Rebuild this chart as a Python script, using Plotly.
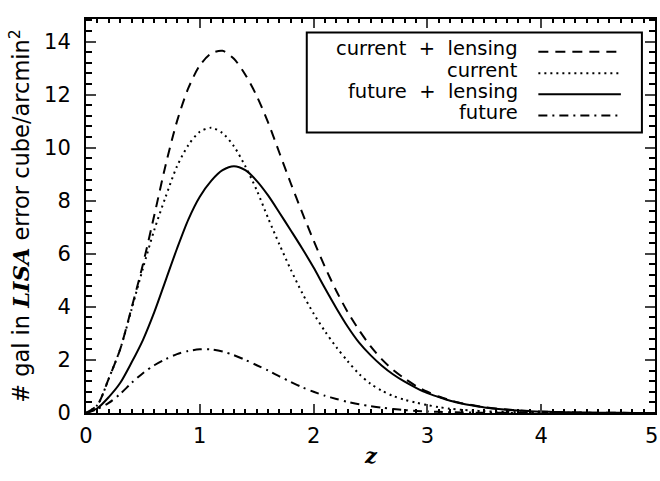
import plotly.graph_objects as go

z = [round(0.1 * i, 1) for i in range(51)]

current_lensing = [0, 0.3, 1.3, 2.4, 3.95, 5.6, 7.45, 9.35, 11.0, 12.25, 13.1, 13.55, 13.65, 13.35, 12.75,
                   11.95, 10.95, 9.8, 8.65, 7.55, 6.5, 5.5, 4.6, 3.8, 3.12, 2.52, 2.02, 1.62, 1.3, 1.02,
                   0.8, 0.62, 0.48, 0.37, 0.29, 0.22, 0.17, 0.13, 0.1, 0.075, 0.055, 0.04, 0.03, 0.022,
                   0.016, 0.012, 0.008, 0.006, 0.004, 0.002, 0.001]
current = [0, 0.3, 1.3, 2.4, 3.9, 5.45, 6.9, 8.15, 9.3, 10.1, 10.6, 10.75, 10.55, 10.05, 9.3,
           8.4, 7.35, 6.35, 5.4, 4.52, 3.75, 3.08, 2.48, 1.95, 1.47, 1.1, 0.84, 0.64, 0.5, 0.39,
           0.3, 0.22, 0.16, 0.12, 0.09, 0.07, 0.05, 0.04, 0.03, 0.02, 0.015, 0.01, 0.008, 0.006,
           0.004, 0.003, 0.002, 0.001, 0.001, 0.0, 0.0]
future_lensing = [0, 0.18, 0.6, 1.13, 1.9, 2.75, 3.8, 5.0, 6.2, 7.3, 8.15, 8.75, 9.15, 9.3, 9.15,
                  8.75, 8.2, 7.55, 6.88, 6.2, 5.48, 4.7, 3.95, 3.25, 2.65, 2.18, 1.78, 1.45, 1.18, 0.95,
                  0.75, 0.6, 0.46, 0.36, 0.28, 0.21, 0.16, 0.12, 0.09, 0.07, 0.05, 0.04, 0.03, 0.022,
                  0.016, 0.01, 0.007, 0.005, 0.003, 0.002, 0.001]
future = [0, 0.15, 0.38, 0.72, 1.13, 1.5, 1.8, 2.03, 2.22, 2.34, 2.4, 2.4, 2.32, 2.18, 2.0,
          1.8, 1.6, 1.38, 1.17, 0.97, 0.8, 0.65, 0.53, 0.42, 0.33, 0.26, 0.2, 0.15, 0.11, 0.08,
          0.06, 0.045, 0.03, 0.02, 0.015, 0.01, 0.007, 0.005, 0.003, 0.002, 0.001, 0, 0, 0,
          0, 0, 0, 0, 0, 0, 0]

labels = ["current&nbsp;&nbsp;+&nbsp;&nbsp;lensing", "current",
          "future&nbsp;&nbsp;+&nbsp;&nbsp;lensing", "future"]
series = [current_lensing, current, future_lensing, future]
dashes = ["10px,7px", "2px,4px", "solid", "9px,5px,2px,5px"]

x_ticks = [0, 1, 2, 3, 4, 5]
x_tick_labels = ["0", "1", "2", "3", "4", "5&nbsp;"]
y_ticks = [0, 2, 4, 6, 8, 10, 12, 14]

fig = go.Figure()
for lab, ys, d in zip(labels, series, dashes):
    fig.add_trace(go.Scatter(x=z, y=ys, mode="lines", name=lab,
                             line=dict(color="black", width=2, dash=d, shape="spline", smoothing=0.8),
                             showlegend=False, hoverinfo="skip"))

axis_font = dict(family="DejaVu Sans", size=21, color="black")
fig.update_xaxes(range=[0, 5], tickvals=x_ticks, ticktext=x_tick_labels, ticks="inside", ticklen=9, tickwidth=1.5,
                 mirror="allticks", showline=True, linewidth=2, linecolor="black",
                 showgrid=False, zeroline=False, tickfont=axis_font, automargin=False,
                 ticklabelstandoff=3, ticklabeloverflow="allow",
                 minor=dict(dtick=0.1, ticks="inside", ticklen=4, tickwidth=1.5, tickcolor="black", showgrid=False))
fig.update_yaxes(range=[0, 14.85], tickvals=y_ticks, ticks="inside", ticklen=10, tickwidth=1.5,
                 mirror="allticks", showline=True, linewidth=2, linecolor="black",
                 showgrid=False, zeroline=False, tickfont=axis_font, automargin=False,
                 ticklabelstandoff=9,
                 minor=dict(dtick=0.4, tick0=0, ticks="inside", ticklen=6, tickwidth=1.5, tickcolor="black", showgrid=False))

# axis titles
fig.add_annotation(xref="paper", yref="paper", x=0.5, y=-0.107, text="<b><i>z</i></b>", showarrow=False,
                   xanchor="center", yanchor="middle",
                   font=dict(family="DejaVu Serif", size=21, color="black"))
fig.add_annotation(xref="paper", yref="paper", x=-0.118, y=0.5, textangle=-90, showarrow=False,
                   text="#&nbsp;gal in <span style='font-family:DejaVu Serif'><b><i>LISA</i></b></span> error cube/arcmin<sup>2</sup>",
                   xanchor="center", yanchor="middle",
                   font=dict(family="DejaVu Sans", size=22.5, color="black"))

# custom legend (text right-aligned, line sample on the right)
legend_y = [0.925, 0.87, 0.817, 0.763]
box = dict(x0=0.388, x1=0.977, y0=0.712, y1=0.966)
fig.add_shape(type="rect", xref="paper", yref="paper", **box,
              line=dict(color="black", width=2), fillcolor="white")
for lab, d, yy in zip(labels, dashes, legend_y):
    fig.add_annotation(xref="paper", yref="paper", x=0.762, y=yy, text=lab, showarrow=False,
                       xanchor="right", yanchor="middle",
                       font=dict(family="DejaVu Sans", size=19.5, color="black"))
    fig.add_shape(type="line", xref="paper", yref="paper", x0=0.795, x1=0.94, y0=yy - 0.008, y1=yy - 0.008,
                  line=dict(color="black", width=2, dash=d))

fig.update_layout(width=660, height=481, margin=dict(l=86, r=5, t=19, b=68),
                  plot_bgcolor="white", paper_bgcolor="white", hovermode=False)
fig.write_html("out.html", config={"displayModeBar": False},
               post_script="document.body.style.margin='0px';")
